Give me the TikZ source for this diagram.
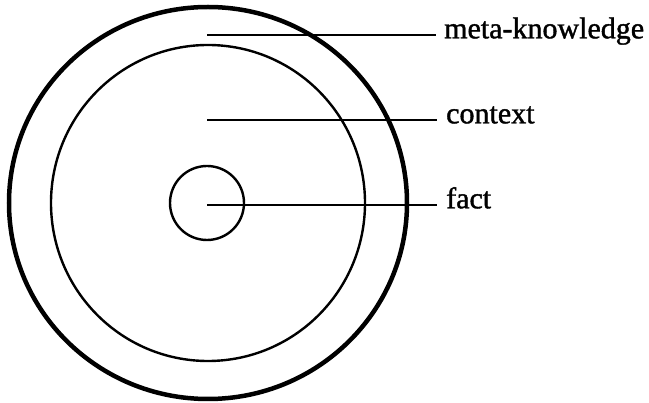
\documentclass[tikz,border=0pt]{standalone}
\usepackage{fontspec}
\setmainfont{Liberation Serif}
\newfontfamily\lblfont{Liberation Serif}[FakeBold=1.3]
\begin{document}
\begin{tikzpicture}[x=1pt,y=-1pt,
  lbl/.style={anchor=mid west,inner sep=0pt,font=\lblfont\fontsize{30}{34}\selectfont},
  ring/.style={draw=black,line width=#1},
  leader/.style={draw=black,line width=2.2pt}]
\useasboundingbox (0,0) rectangle (649,403);
% rings
\draw[ring=4.5pt] (208,203) ellipse [x radius=199, y radius=196];
\draw[ring=2.4pt] (208,203) ellipse [x radius=157, y radius=158];
\draw[ring=2.4pt] (207,203) circle [radius=37];
% anchor points
\coordinate (pm) at (207,35);
\coordinate (pc) at (207,120);
\coordinate (pf) at (207,205);
\node[lbl] (tm) at (444,36) {meta-knowledge};
\node[lbl] (tc) at (446,121) {context};
\node[lbl] (tf) at (446,206) {fact};
\draw[leader] (pm) -- ([xshift=-8pt]tm.west |- pm);
\draw[leader] (pc) -- ([xshift=-9pt]tc.west |- pc);
\draw[leader] (pf) -- ([xshift=-9pt]tf.west |- pf);
\end{tikzpicture}
\end{document}
